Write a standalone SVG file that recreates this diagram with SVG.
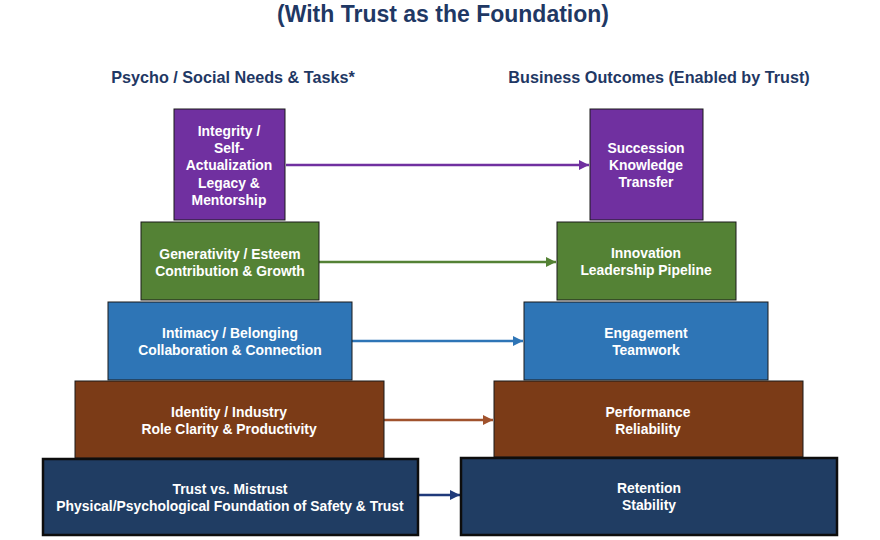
<svg xmlns="http://www.w3.org/2000/svg" width="880" height="540" viewBox="0 0 880 540">
<style>
.title{font-family:"Liberation Sans",Arial,sans-serif;font-weight:bold;font-size:23px;fill:#1F3864;text-anchor:middle}
.head{font-family:"Liberation Sans",Arial,sans-serif;font-weight:bold;font-size:16.2px;fill:#1F3864;text-anchor:middle}
.t{font-family:"Liberation Sans",Arial,sans-serif;font-weight:bold;font-size:13.9px;fill:#ffffff;text-anchor:middle}
.box{stroke:#1a1a1a;stroke-width:1}
.base{stroke:#0d0d0d;stroke-width:2.5}
.purple{fill:#7030A0}
.green{fill:#548235}
.blue{fill:#2E75B6}
.brown{fill:#7B3B17}
.navy{fill:#203D63}
.c{fill:none;stroke-width:2.5}
</style>
<defs>
<marker id="ap" viewBox="0 0 10 10" refX="10" refY="5" markerWidth="10" markerHeight="10" markerUnits="userSpaceOnUse" orient="auto"><path d="M0,0 L10,5 L0,10 z" fill="#7030A0"/></marker>
<marker id="ag" viewBox="0 0 10 10" refX="10" refY="5" markerWidth="10" markerHeight="10" markerUnits="userSpaceOnUse" orient="auto"><path d="M0,0 L10,5 L0,10 z" fill="#548235"/></marker>
<marker id="ab" viewBox="0 0 10 10" refX="10" refY="5" markerWidth="10" markerHeight="10" markerUnits="userSpaceOnUse" orient="auto"><path d="M0,0 L10,5 L0,10 z" fill="#2E75B6"/></marker>
<marker id="ar" viewBox="0 0 10 10" refX="10" refY="5" markerWidth="10" markerHeight="10" markerUnits="userSpaceOnUse" orient="auto"><path d="M0,0 L10,5 L0,10 z" fill="#A0522D"/></marker>
<marker id="an" viewBox="0 0 10 10" refX="10" refY="5" markerWidth="10" markerHeight="10" markerUnits="userSpaceOnUse" orient="auto"><path d="M0,0 L10,5 L0,10 z" fill="#1F3A7A"/></marker>
</defs>
<rect width="880" height="540" fill="#ffffff"/>
<text class="title" x="443" y="22">(With Trust as the Foundation)</text>
<text class="head" x="233" y="83">Psycho / Social Needs &amp; Tasks*</text>
<text class="head" x="659" y="83">Business Outcomes (Enabled by Trust)</text>

<g id="connectors">
<line class="c" x1="286" y1="165" x2="589" y2="165" stroke="#7030A0" marker-end="url(#ap)"/>
<line class="c" x1="319" y1="262" x2="556" y2="262" stroke="#548235" marker-end="url(#ag)"/>
<line class="c" x1="352" y1="341" x2="523" y2="341" stroke="#2E75B6" marker-end="url(#ab)"/>
<line class="c" x1="384" y1="420" x2="493" y2="420" stroke="#A0522D" marker-end="url(#ar)"/>
<line class="c" x1="419" y1="495" x2="460" y2="495" stroke="#1F3A7A" marker-end="url(#an)"/>
</g>

<g id="integrity">
<rect class="box purple" x="174" y="109" width="111" height="111"/>
<text class="t" x="229" y="136">Integrity /</text>
<text class="t" x="229" y="153">Self-</text>
<text class="t" x="229" y="170">Actualization</text>
<text class="t" x="229" y="188">Legacy &amp;</text>
<text class="t" x="229" y="205">Mentorship</text>
</g>
<g id="generativity">
<rect class="box green" x="141" y="222" width="178" height="78"/>
<text class="t" x="230" y="259">Generativity / Esteem</text>
<text class="t" x="230" y="276">Contribution &amp; Growth</text>
</g>
<g id="intimacy">
<rect class="box blue" x="108" y="302" width="244" height="78"/>
<text class="t" x="230" y="338">Intimacy / Belonging</text>
<text class="t" x="230" y="355">Collaboration &amp; Connection</text>
</g>
<g id="identity">
<rect class="box brown" x="75" y="381" width="309" height="77"/>
<text class="t" x="229" y="417">Identity / Industry</text>
<text class="t" x="229" y="434">Role Clarity &amp; Productivity</text>
</g>
<g id="trust">
<rect class="base navy" x="43" y="459" width="375" height="76"/>
<text class="t" x="230" y="494">Trust vs. Mistrust</text>
<text class="t" x="230" y="511">Physical/Psychological Foundation of Safety &amp; Trust</text>
</g>

<g id="succession">
<rect class="box purple" x="590" y="109" width="113" height="111"/>
<text class="t" x="646" y="153">Succession</text>
<text class="t" x="646" y="170">Knowledge</text>
<text class="t" x="646" y="187">Transfer</text>
</g>
<g id="innovation">
<rect class="box green" x="557" y="222" width="179" height="78"/>
<text class="t" x="646" y="258">Innovation</text>
<text class="t" x="646" y="275">Leadership Pipeline</text>
</g>
<g id="engagement">
<rect class="box blue" x="524" y="302" width="244" height="78"/>
<text class="t" x="646" y="338">Engagement</text>
<text class="t" x="646" y="355">Teamwork</text>
</g>
<g id="performance">
<rect class="box brown" x="494" y="381" width="309" height="76"/>
<text class="t" x="648" y="417">Performance</text>
<text class="t" x="648" y="434">Reliability</text>
</g>
<g id="retention">
<rect class="base navy" x="461" y="458" width="376" height="77"/>
<text class="t" x="649" y="493">Retention</text>
<text class="t" x="649" y="510">Stability</text>
</g>
</svg>
